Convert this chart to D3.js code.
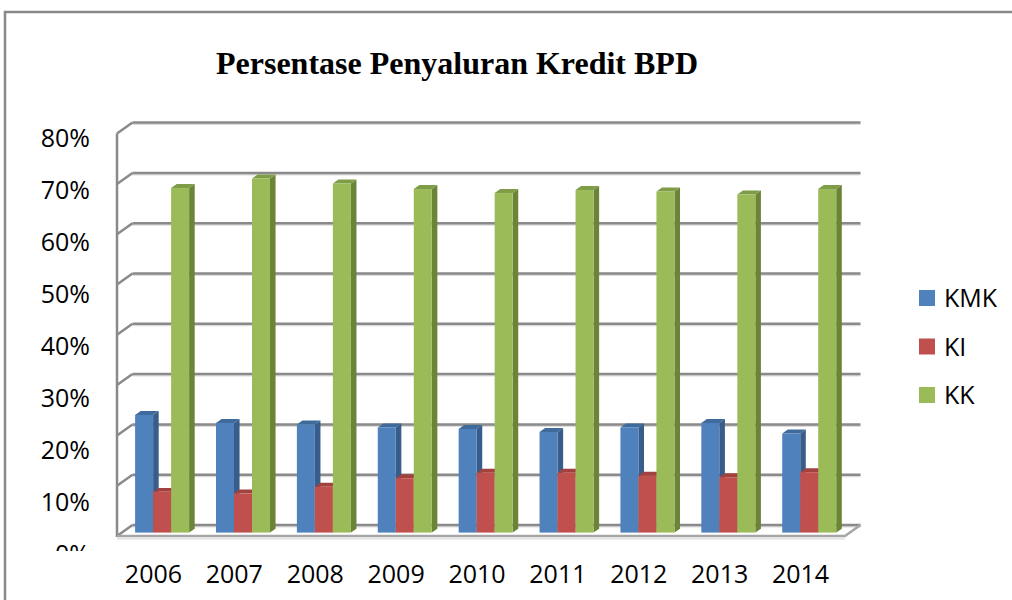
<!doctype html>
<html>
<head>
  <style>
      body { margin:0; background:#fff; }
      svg { display:block; }
      .axis text { font-family:"Open Sans", sans-serif; font-size:25px; fill:#000; }
      .axis path, .axis line { display:none; }
      .legend text { font-family:"Open Sans", sans-serif; font-size:25px; fill:#000; }
  </style>
  <script src="https://d3js.org/d3.v7.min.js"></script>
</head>
<body>
  <script>
      // data (percent)
      var years = ["2006","2007","2008","2009","2010","2011","2012","2013","2014"];
      var kmk = [23.4, 21.8, 21.5, 20.9, 20.6, 20.0, 20.9, 21.8, 19.7];
      var ki  = [8.1, 7.8, 9.1, 10.8, 11.9, 11.9, 11.3, 11.0, 12.0];
      var kk  = [68.5, 70.4, 69.4, 68.3, 67.5, 68.1, 67.8, 67.2, 68.3];
      var seriesNames = ["KMK","KI","KK"];
      var yTicks = [0,10,20,30,40,50,60,70,80];

      // colours: front, side, top
      var colors = {
         KMK: ["#4f81bd", "#385d8a", "#3f6a9c"],
         KI:  ["#c0504d", "#8c3836", "#a3413e"],
         KK:  ["#9bbb59", "#6b8437", "#7f9c47"]
      };

      var width = 1012, height = 600;
      var depth = {x:15.5, y:-11};     // oblique depth of the floor
      var barFront = 0.31, barBack = 0.67;

      var svg = d3.select("body").append("svg")
         .attr("width", width)
         .attr("height", height);

      // outer frame
      svg.append("rect")
         .attr("x", 5).attr("y", 12)
         .attr("width", 1030).attr("height", 620)
         .attr("fill", "none")
         .attr("stroke", "#898989")
         .attr("stroke-width", 2.5);

      // title
      svg.append("text")
         .attr("x", 457)
         .attr("y", 74)
         .attr("text-anchor", "middle")
         .style("font-family", "'Liberation Serif', 'Times New Roman', serif")
         .style("font-weight", "bold")
         .style("font-size", "32px")
         .text("Persentase Penyaluran Kredit BPD");

      // scales
      var x = d3.scaleBand().domain(years).range([117, 845]);
      var sub = d3.scaleBand().domain(seriesNames).range([13.3, 67.3]);
      var y = d3.scaleLinear().domain([0, 80]).range([536, 133.6]);

      var grid = svg.append("g");
      var x0 = x.range()[0], x1 = x.range()[1];

      // back wall grid lines + left wall diagonals
      yTicks.forEach(function(t) {
         var yf = y(t), yb = yf + depth.y;
         grid.append("line")
            .attr("x1", x0 + depth.x).attr("y1", yb + 1.5)
            .attr("x2", x1 + depth.x).attr("y2", yb + 1.5)
            .attr("stroke", "#dcdcdc").attr("stroke-width", 2);
         grid.append("line")
            .attr("x1", x0 + depth.x).attr("y1", yb)
            .attr("x2", x1 + depth.x).attr("y2", yb)
            .attr("stroke", "#8a8a8a").attr("stroke-width", 2.5);
         grid.append("line")
            .attr("x1", x0).attr("y1", yf)
            .attr("x2", x0 + depth.x).attr("y2", yb)
            .attr("stroke", "#8a8a8a").attr("stroke-width", 2.5);
      });

      // left axis line
      grid.append("line")
         .attr("x1", x0).attr("y1", y(80))
         .attr("x2", x0).attr("y2", y(0) + 1)
         .attr("stroke", "#8a8a8a").attr("stroke-width", 2.5);

      // floor outline
      grid.append("path")
         .attr("d", "M" + x0 + "," + y(0) + "L" + x1 + "," + y(0) +
                    "L" + (x1 + depth.x) + "," + (y(0) + depth.y))
         .attr("fill", "none")
         .attr("stroke", "#a6a6a6").attr("stroke-width", 2.5);
      grid.append("line")
         .attr("x1", x0).attr("y1", y(0) + 2.5)
         .attr("x2", x1).attr("y2", y(0) + 2.5)
         .attr("stroke", "#e2e2e2").attr("stroke-width", 2);

      // bars
      var values = {KMK: kmk, KI: ki, KK: kk};
      var fx = depth.x * barFront, fy = depth.y * barFront;
      var dx = depth.x * (barBack - barFront), dy = depth.y * (barBack - barFront);
      var bars = svg.append("g");

      years.forEach(function(yr, i) {
         seriesNames.forEach(function(s) {
            var v = values[s][i];
            var left = x(yr) + sub(s) + fx;
            var right = left + sub.bandwidth();
            var top = y(v) + fy;
            var bottom = y(0) + fy;
            var c = colors[s];
            var g = bars.append("g");
            // side face
            g.append("path")
               .attr("d", "M" + right + "," + top + "L" + (right + dx) + "," + (top + dy) +
                          "L" + (right + dx) + "," + (bottom + dy) + "L" + right + "," + bottom + "Z")
               .attr("fill", c[1]);
            // top face
            g.append("path")
               .attr("d", "M" + left + "," + top + "L" + right + "," + top +
                          "L" + (right + dx) + "," + (top + dy) + "L" + (left + dx) + "," + (top + dy) + "Z")
               .attr("fill", c[2]);
            // front face
            g.append("rect")
               .attr("x", left).attr("y", top)
               .attr("width", sub.bandwidth())
               .attr("height", bottom - top)
               .attr("fill", c[0]);
         });
      });

      // y axis labels (placed a little apart from the grid, as in the source)
      var yLabel = d3.scaleLinear().domain([0, 80]).range([554, 138]);
      svg.append("clipPath").attr("id", "yclip")
         .append("rect").attr("x", 0).attr("y", 100).attr("width", 110).attr("height", 451);
      svg.append("g")
         .attr("class", "axis")
         .attr("clip-path", "url(#yclip)")
         .append("g")
         .attr("transform", "translate(90,0)")
         .call(d3.axisLeft(yLabel).tickValues(yTicks).tickSize(0).tickPadding(0)
               .tickFormat(function(d) { return d + "%"; }));

      // x axis labels
      var xLabel = d3.scaleBand().domain(years).range([x0 - 4, x1 - 4]);
      svg.append("g")
         .attr("class", "axis")
         .attr("transform", "translate(0,565)")
         .call(d3.axisBottom(xLabel).tickSize(0).tickPadding(0));

      // legend
      var legend = svg.append("g").attr("class", "legend");
      var ly = d3.scalePoint().domain(seriesNames).range([298, 395]);
      seriesNames.forEach(function(s) {
         legend.append("rect")
            .attr("x", 919).attr("y", ly(s) - 8)
            .attr("width", 16).attr("height", 16)
            .attr("fill", colors[s][0]);
         legend.append("text")
            .attr("x", 944).attr("y", ly(s) + 9)
            .text(s);
      });
  </script>
</body>
</html>
